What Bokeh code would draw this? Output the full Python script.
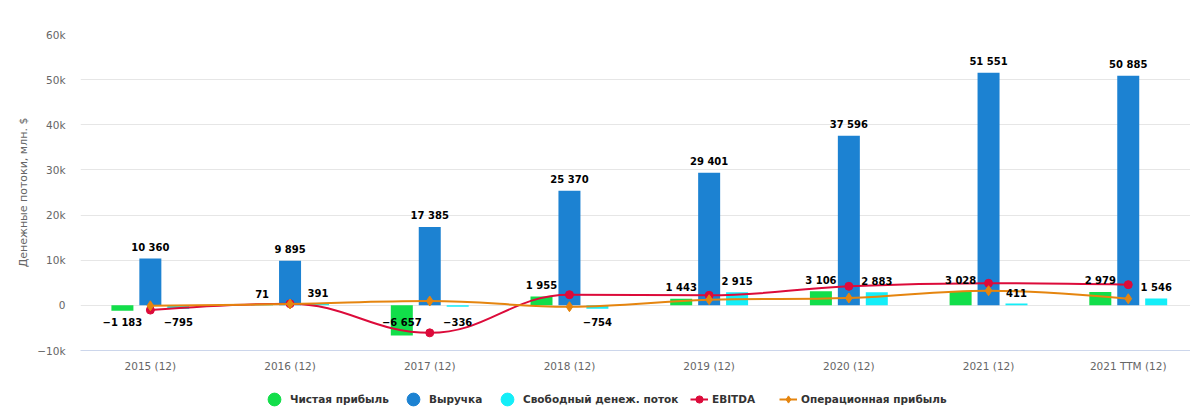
import math
from bokeh.plotting import figure
from bokeh.layouts import column
from bokeh.models import Range1d, FixedTicker, Legend, LegendItem, ColumnDataSource
from bokeh.core.properties import value
from bokeh.embed import file_html
from bokeh.resources import INLINE

# ---------------- data ----------------
categories = ["2015 (12)", "2016 (12)", "2017 (12)", "2018 (12)",
              "2019 (12)", "2020 (12)", "2021 (12)", "2021 TTM (12)"]
net_income = [-1183, 71, -6657, 1955, 1443, 3106, 3028, 2979]
revenue = [10360, 9895, 17385, 25370, 29401, 37596, 51551, 50885]
free_cash_flow = [-795, 391, -336, -754, 2915, 2883, 411, 1546]
ebitda = [-1050, 360, -6090, 2360, 2220, 4220, 4890, 4580]
operating_income = [-100, 300, 960, -300, 1250, 1620, 3250, 1470]

series_names = ["Чистая прибыль", "Выручка", "Свободный денеж. поток",
                "EBITDA", "Операционная прибыль"]
y_ticks = [-10000, 0, 10000, 20000, 30000, 40000, 50000, 60000]
y_tick_labels = ["−10k", "0", "10k", "20k", "30k", "40k", "50k", "60k"]
y_title = "Денежные потоки, млн. $"

# ---------------- styles ----------------
C_GREEN = "#12de4a"
C_BLUE = "#1c82d2"
C_CYAN = "#14eef8"
C_RED = "#dc0b3a"
C_ORANGE = "#e5850f"
FONT = "DejaVu Sans"

W = 1190
H_MAIN = 380
H_LEG = 39
BL, BT, BR = 80, 34, 0
FH = 316
BB = H_MAIN - BT - FH
FW = W - BL - BR
X0 = -0.5
PX_PER_CAT = 139.7
X1 = X0 + FW / PX_PER_CAT
Y0, Y1 = -10000, 60000
BAR_W = 0.1575
OFF = 0.2

p = figure(width=W, height=H_MAIN, output_backend="svg", toolbar_location=None,
           x_range=Range1d(X0, X1), y_range=Range1d(Y0, Y1),
           min_border_left=BL, min_border_right=BR, min_border_top=BT,
           min_border_bottom=BB)
p.outline_line_color = None
p.background_fill_color = "white"
p.border_fill_color = "white"

# axes
p.xaxis.ticker = FixedTicker(ticks=list(range(len(categories))))
p.xaxis.major_label_overrides = {i: c for i, c in enumerate(categories)}
p.xaxis.axis_line_color = "#ccd6eb"
p.xaxis.major_tick_line_color = None
p.xaxis.minor_tick_line_color = None
p.xaxis.major_tick_out = 0
p.xaxis.major_tick_in = 0
p.xaxis.major_label_standoff = 9
p.xaxis.major_label_text_font = FONT
p.xaxis.major_label_text_font_size = "10.5px"
p.xaxis.major_label_text_color = "#666666"

p.yaxis.ticker = FixedTicker(ticks=y_ticks)
p.yaxis.major_label_overrides = {t: l for t, l in zip(y_ticks, y_tick_labels)}
p.yaxis.axis_line_color = None
p.yaxis.major_tick_line_color = None
p.yaxis.minor_tick_line_color = None
p.yaxis.major_tick_out = 0
p.yaxis.major_tick_in = 0
p.yaxis.major_label_standoff = 15
p.yaxis.major_label_text_font = FONT
p.yaxis.major_label_text_font_size = "10.5px"
p.yaxis.major_label_text_color = "#666666"
p.yaxis.axis_label = y_title
p.yaxis.axis_label_text_font = FONT
p.yaxis.axis_label_text_font_size = "11px"
p.yaxis.axis_label_text_font_style = "normal"
p.yaxis.axis_label_text_color = "#666666"
p.yaxis.axis_label_standoff = 4

p.xgrid.grid_line_color = None
p.ygrid.ticker = FixedTicker(ticks=y_ticks)
p.ygrid.grid_line_color = "#e6e6e6"

# ---------------- bars ----------------
idx = list(range(len(categories)))
bar_series = [(net_income, -OFF, C_GREEN), (revenue, 0.0, C_BLUE), (free_cash_flow, OFF, C_CYAN)]
for vals, off, col in bar_series:
    src = ColumnDataSource(dict(x=[i + off for i in idx], top=vals))
    p.vbar(x="x", top="top", bottom=0, width=BAR_W, source=src,
           fill_color=col, line_color=None)

# ---------------- spline lines (Highcharts-style smoothing) ----------------
SX = PX_PER_CAT
SY = FH / (Y1 - Y0)


def spline(vals):
    pts = [(i * SX, v * SY) for i, v in enumerate(vals)]
    n = len(pts)
    left = list(pts)
    right = list(pts)
    sm = 1.5
    d = sm + 1
    for i in range(1, n - 1):
        (lx, ly), (px, py), (nx, ny) = pts[i - 1], pts[i], pts[i + 1]
        lcx = (sm * px + lx) / d
        lcy = (sm * py + ly) / d
        rcx = (sm * px + nx) / d
        rcy = (sm * py + ny) / d
        dl = math.hypot(lcx - px, lcy - py)
        dr = math.hypot(rcx - px, rcy - py)
        la = math.atan2(lcy - py, lcx - px)
        ra = math.atan2(rcy - py, rcx - px)
        ja = math.pi / 2 + (la + ra) / 2
        if abs(la - ja) > math.pi / 2:
            ja -= math.pi
        lcx = px + math.cos(ja) * dl
        lcy = py + math.sin(ja) * dl
        rcx = px + math.cos(math.pi + ja) * dr
        rcy = py + math.sin(math.pi + ja) * dr
        if rcy > py and rcy > ny:
            rcy = max(py, ny)
            lcy = 2 * py - rcy
        elif rcy < py and rcy < ny:
            rcy = min(py, ny)
            lcy = 2 * py - rcy
        if lcy > ly and lcy > py:
            lcy = max(ly, py)
            rcy = 2 * py - lcy
        elif lcy < ly and lcy < py:
            lcy = min(ly, py)
            rcy = 2 * py - lcy
        left[i] = (lcx, lcy)
        right[i] = (rcx, rcy)
    seg = dict(x0=[], y0=[], x1=[], y1=[], cx0=[], cy0=[], cx1=[], cy1=[])
    for i in range(n - 1):
        seg["x0"].append(pts[i][0] / SX)
        seg["y0"].append(pts[i][1] / SY)
        seg["x1"].append(pts[i + 1][0] / SX)
        seg["y1"].append(pts[i + 1][1] / SY)
        seg["cx0"].append(right[i][0] / SX)
        seg["cy0"].append(right[i][1] / SY)
        seg["cx1"].append(left[i + 1][0] / SX)
        seg["cy1"].append(left[i + 1][1] / SY)
    return seg


for vals, col, marker, msize in [(ebitda, C_RED, "circle", 8),
                                 (operating_income, C_ORANGE, "diamond", 10)]:
    seg = ColumnDataSource(spline(vals))
    p.bezier(x0="x0", y0="y0", x1="x1", y1="y1", cx0="cx0", cy0="cy0",
             cx1="cx1", cy1="cy1", source=seg, line_color=col, line_width=2)
    p.scatter(x=idx, y=vals, marker=marker, size=msize,
              fill_color=col, line_color=col)

# ---------------- data labels ----------------


def fmt(v):
    s = f"{abs(v):,}".replace(",", " ")
    return ("−" + s) if v < 0 else s


for vals, off, col in bar_series:
    pos_x = [i + off for i, v in zip(idx, vals) if v >= 0]
    pos_y = [v for v in vals if v >= 0]
    pos_t = [fmt(v) for v in vals if v >= 0]
    neg_x = [i + off for i, v in zip(idx, vals) if v < 0]
    neg_y = [0 for v in vals if v < 0]
    neg_t = [fmt(v) for v in vals if v < 0]
    for xs, ys, ts, yoff in [(pos_x, pos_y, pos_t, -11), (neg_x, neg_y, neg_t, 17)]:
        if not xs:
            continue
        p.text(x=xs, y=ys, text=ts, y_offset=yoff, text_align="center",
               text_baseline="middle", text_font=value(FONT),
               text_font_style="bold", text_font_size="10px", text_color="#000000")

# ---------------- legend strip ----------------
lf = figure(width=W, height=H_LEG, output_backend="svg", toolbar_location=None,
            x_range=Range1d(0, 1), y_range=Range1d(0, 1),
            x_axis_type=None, y_axis_type=None,
            min_border_left=BL, min_border_right=0, min_border_top=0, min_border_bottom=0)
lf.outline_line_color = None
lf.grid.visible = False
lf.background_fill_color = "white"
lf.border_fill_color = "white"

# legend-only renderers: one point placed outside the strip's visible range
leg_rends = []
for col in [C_GREEN, C_BLUE, C_CYAN]:
    leg_rends.append([lf.scatter(x=[-5], y=[-5], marker="circle", fill_color=col, line_color=col)])
for col, marker in [(C_RED, "circle"), (C_ORANGE, "diamond")]:
    ln = lf.line(x=[-6, -5], y=[-5, -5], line_color=col, line_width=2)
    mk = lf.scatter(x=[-5], y=[-5], marker=marker, fill_color=col, line_color=col)
    leg_rends.append([ln, mk])

# (box left px in window, glyph width, glyph height, label standoff)
legend_layout = [(258, 32, 32, -3), (397, 32, 32, -2), (491, 32, 32, -4),
                 (690, 18, 20, 4), (779, 18, 20, 4)]
ITEM_CY = 19
for name, rends, (bx, gw, gh, lst) in zip(series_names, leg_rends, legend_layout):
    top = ITEM_CY - gh / 2
    vy = H_LEG - gh - top
    lg = Legend(items=[LegendItem(label=name, renderers=rends)], location=(bx - BL, vy),
                orientation="horizontal", glyph_width=gw, glyph_height=gh,
                label_standoff=lst, padding=0, margin=0, spacing=0,
                label_height=gh, border_line_color=None, background_fill_alpha=0,
                label_text_font=FONT, label_text_font_style="bold",
                label_text_font_size="10.5px", label_text_color="#333333")
    lf.add_layout(lg, "center")

layout = column(p, lf, spacing=0)
open("out.html", "w").write(file_html(layout, INLINE))
